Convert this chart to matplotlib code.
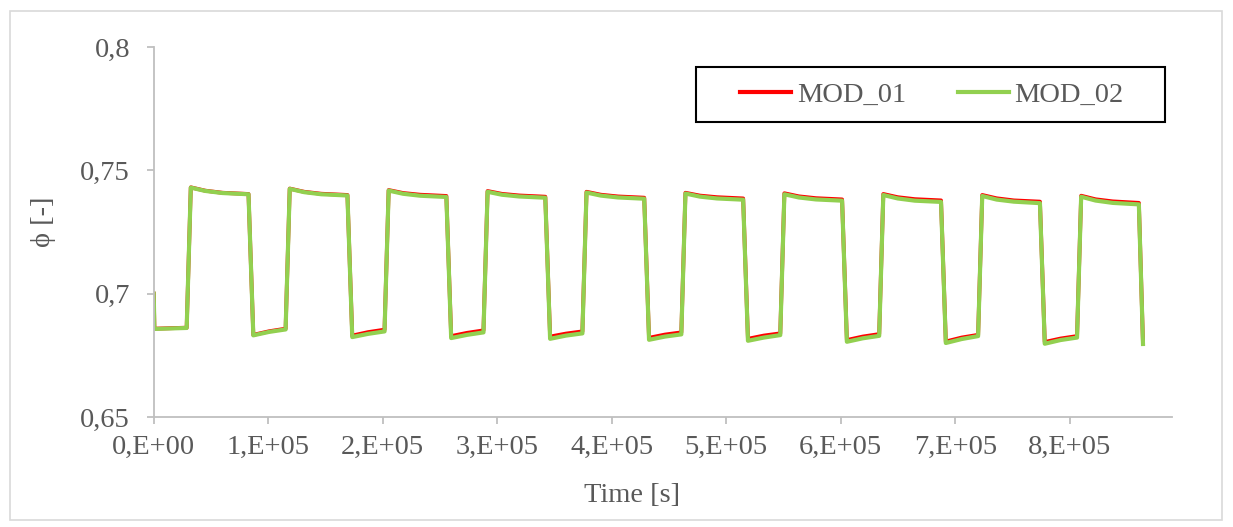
import matplotlib
matplotlib.use("Agg")
import matplotlib.pyplot as plt
from matplotlib.patches import Rectangle

# ============================================================
# Data
# ============================================================
DAY = 86400
# seconds after each day start: low min, low mid, low end, peak, high mid1, high mid2, high end
DAY_OFFSETS = [600, 14400, 28800, 32400, 45000, 60000, 82800]

start_value = 0.700
end_time = 864000

# MOD_01 (red)
low_min_01 = [0.6858, 0.6833, 0.6830, 0.6828, 0.6826, 0.6821, 0.6817, 0.6812, 0.6806, 0.6804]
low_mid_01 = [0.6860, 0.68475, 0.6844, 0.6841, 0.6838, 0.6834, 0.6830, 0.6826, 0.6822, 0.6818]
low_end_01 = [0.6862, 0.6858, 0.6854, 0.6851, 0.6847, 0.6843, 0.6839, 0.6836, 0.6833, 0.6828]
peak_01 = [0.7431, 0.7426, 0.7420, 0.7416, 0.7413, 0.7409, 0.7407, 0.7404, 0.7400, 0.7397]
mid1_01 = [0.74175, 0.7413, 0.7408, 0.74045, 0.7401, 0.73975, 0.73945, 0.7391, 0.73865, 0.73825]
mid2_01 = [0.7409, 0.7405, 0.7401, 0.7398, 0.7394, 0.7391, 0.7387, 0.7383, 0.7378, 0.7374]
high_end_01 = [0.7404, 0.7400, 0.7396, 0.7393, 0.7389, 0.7386, 0.7382, 0.7378, 0.7373, 0.7368]
final_01 = 0.6800

# MOD_02 (green)
low_min_02 = [0.6857, 0.6831, 0.6824, 0.6820, 0.6817, 0.6813, 0.6809, 0.6805, 0.6800, 0.6797]
low_mid_02 = [0.6859, 0.6845, 0.6837, 0.6833, 0.6830, 0.6826, 0.6822, 0.6819, 0.6816, 0.6812]
low_end_02 = [0.6861, 0.6855, 0.6847, 0.6843, 0.6839, 0.6835, 0.6832, 0.6829, 0.6828, 0.6822]
peak_02 = [0.7430, 0.7425, 0.7418, 0.7413, 0.7410, 0.7406, 0.7403, 0.7400, 0.7396, 0.7393]
mid1_02 = [0.74165, 0.74115, 0.7405, 0.7401, 0.73975, 0.73935, 0.7390, 0.7386, 0.73815, 0.73775]
mid2_02 = [0.7408, 0.7403, 0.7397, 0.7394, 0.7390, 0.7386, 0.7382, 0.7377, 0.7373, 0.7368]
high_end_02 = [0.7403, 0.7398, 0.7392, 0.7389, 0.7385, 0.7381, 0.7377, 0.7372, 0.7367, 0.7362]
final_02 = 0.6796

x_ticks = [0, 100000, 200000, 300000, 400000, 500000, 600000, 700000, 800000]
x_tick_labels = ["0,E+00", "1,E+05", "2,E+05", "3,E+05", "4,E+05",
                 "5,E+05", "6,E+05", "7,E+05", "8,E+05"]
y_ticks = [0.65, 0.70, 0.75, 0.80]
y_tick_labels = ["0,65", "0,7", "0,75", "0,8"]


def build_series(lo_min, lo_mid, lo_end, pk, m1, m2, hi_end, final):
    t = [0]
    v = [start_value]
    for d in range(len(pk)):
        vals = [lo_min[d], lo_mid[d], lo_end[d], pk[d], m1[d], m2[d], hi_end[d]]
        for off, val in zip(DAY_OFFSETS, vals):
            t.append(d * DAY + off)
            v.append(val)
    t.append(end_time)
    v.append(final)
    return t, v


t1, v1 = build_series(low_min_01, low_mid_01, low_end_01, peak_01, mid1_01, mid2_01, high_end_01, final_01)
t2, v2 = build_series(low_min_02, low_mid_02, low_end_02, peak_02, mid1_02, mid2_02, high_end_02, final_02)

# ============================================================
# Plot
# ============================================================
plt.rcParams['font.family'] = ['Liberation Serif', 'DejaVu Serif']
TXT = "#595959"
AX = "#bfbfbf"
W, H = 1233, 527

fig = plt.figure(figsize=(W / 100, H / 100), dpi=100)
ax = fig.add_axes([153.7 / W, 1 - 417 / H, (1172.3 - 153.7) / W, (417 - 47) / H])

ax.plot(t1, v1, color="#ff0000", lw=2.8, solid_joinstyle="round", label="MOD_01")
ax.plot(t2, v2, color="#92d050", lw=3.0, solid_joinstyle="round", label="MOD_02")

ax.set_xlim(0, 889600)
ax.set_ylim(0.65, 0.80)
ax.set_xticks(x_ticks)
ax.set_xticklabels(x_tick_labels)
ax.set_yticks(y_ticks)
ax.set_yticklabels(y_tick_labels)

for s in ["top", "right"]:
    ax.spines[s].set_visible(False)
for s in ["left", "bottom"]:
    ax.spines[s].set_color(AX)
    ax.spines[s].set_linewidth(1.3)

ax.tick_params(axis="both", colors=AX, labelcolor=TXT, labelsize=20.5,
               length=5, width=1.3, direction="out")
ax.tick_params(axis="y", pad=12)
ax.tick_params(axis="x", pad=8)

fig.text(632 / W, 1 - 495 / H, "Time [s]", ha="center", va="center",
         fontsize=20.5, color=TXT)
fig.text(44 / W, 1 - 222 / H, "ϕ [-]", ha="center", va="center",
         rotation=90, fontsize=20.5, color=TXT)

# legend box
fig.patches.append(Rectangle((696 / W, 1 - 122 / H), (1165 - 696) / W, (122 - 67) / H,
                             transform=fig.transFigure, fill=False,
                             edgecolor="black", lw=1.5))
leg = fig.legend(loc="center", bbox_to_anchor=(932 / W, 1 - 95 / H), ncol=2,
                 frameon=False, fontsize=20.5, handlelength=1.8,
                 handletextpad=0.2, columnspacing=1.8)
for line in leg.get_lines():
    line.set_linewidth(3.0)
for txt in leg.get_texts():
    txt.set_color(TXT)

# chart area border
fig.patches.append(Rectangle((10 / W, 1 - 520 / H), (1222 - 10) / W, (520 - 11) / H,
                             transform=fig.transFigure, fill=False,
                             edgecolor="#d9d9d9", lw=1.2))

fig.savefig("out.png", dpi=100)
